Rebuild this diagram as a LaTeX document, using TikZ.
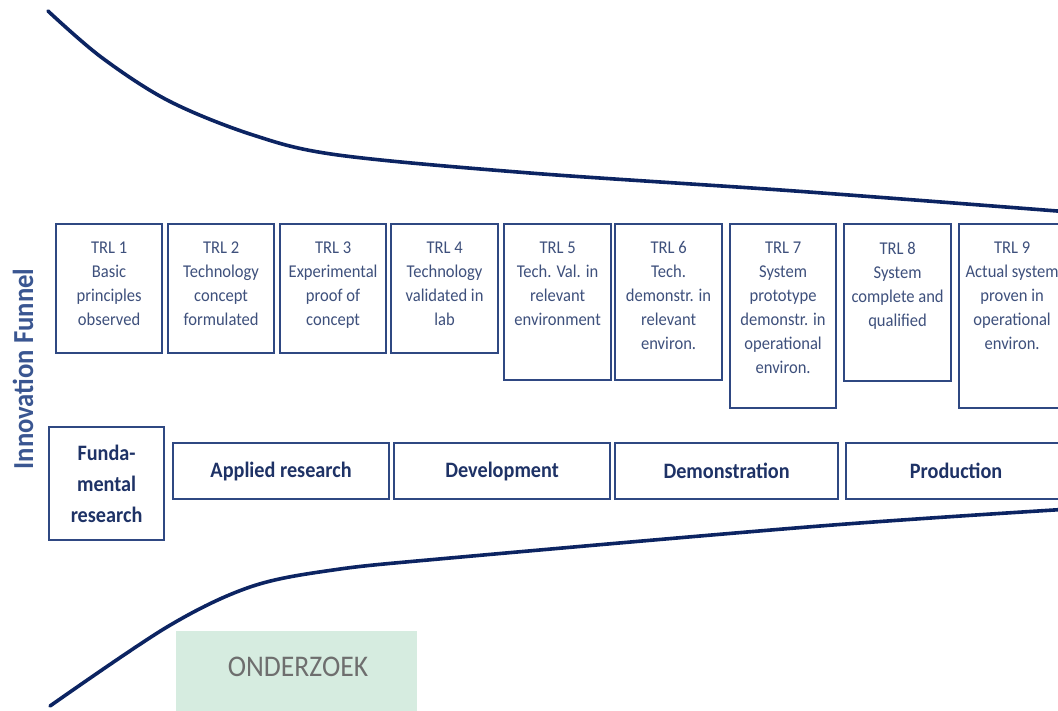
\documentclass[tikz,border=0pt]{standalone}
\usepackage{fontspec}
\setmainfont{Carlito}[FakeStretch=0.92]
\definecolor{boxline}{RGB}{47,72,130}
\definecolor{trltext}{RGB}{62,80,124}
\definecolor{phasetext}{RGB}{30,50,102}
\definecolor{funnelline}{RGB}{12,36,98}
\definecolor{sidetext}{RGB}{58,86,145}
\definecolor{greenfill}{RGB}{214,236,224}
\definecolor{graytext}{RGB}{110,110,110}
\tikzset{
  trlbox/.style={draw=boxline, line width=2.2pt, inner sep=0pt, anchor=north west},
  trllabel/.style={text=trltext, align=center, inner sep=0pt, anchor=north,
    font=\fontsize{18}{24}\selectfont},
  phasebox/.style={draw=boxline, line width=2.2pt, inner sep=0pt, anchor=north west,
    text=phasetext, align=center, font=\bfseries\fontsize{22}{31}\selectfont},
  funnel/.style={draw=funnelline, line width=3.6pt, line cap=round}
}
\begin{document}
\begin{tikzpicture}[x=1pt,y=-1pt]
\useasboundingbox (0,0) rectangle (1058,710);
\fill[white] (0,0) rectangle (1058,710);
% funnel curves
\draw[funnel] plot[smooth, tension=0.55] coordinates {(48,11) (101,57) (169,101) (253,135) (338,155) (530,173) (795,191) (1070,212)};
\draw[funnel] plot[smooth, tension=0.55] coordinates {(50,706) (167,627) (250,587) (333,570) (450,558) (820,526) (1070,509)};
% TRL boxes
\node[trlbox, minimum width=106pt, minimum height=129pt] (t1) at (55,223) {};
\node[trlbox, minimum width=106pt, minimum height=129pt] (t2) at (167,223) {};
\node[trlbox, minimum width=106pt, minimum height=129pt] (t3) at (279,223) {};
\node[trlbox, minimum width=107pt, minimum height=129pt] (t4) at (390,223) {};
\node[trlbox, minimum width=107pt, minimum height=156pt] (t5) at (503,223) {};
\node[trlbox, minimum width=107pt, minimum height=156pt] (t6) at (614,223) {};
\node[trlbox, minimum width=106pt, minimum height=184pt] (t7) at (729,223) {};
\node[trlbox, minimum width=107pt, minimum height=157pt] (t8) at (843,223) {};
\node[trlbox, minimum width=106pt, minimum height=184pt] (t9) at (958,223) {};
\node[trllabel] (l1) at ([yshift=-18.5pt]t1.north) {TRL 1\\Basic\\principles\\observed};
\node[trllabel] (l2) at ([yshift=-18.5pt]t2.north) {TRL 2\\Technology\\concept\\formulated};
\node[trllabel] (l3) at ([yshift=-18.5pt]t3.north) {TRL 3\\Experimental\\proof of\\concept};
\node[trllabel] (l4) at ([yshift=-18.5pt]t4.north) {TRL 4\\Technology\\validated in\\lab};
\node[trllabel] (l5) at ([yshift=-18.5pt]t5.north) {TRL 5\\Tech. Val. in\\relevant\\environment};
\node[trllabel] (l6) at ([yshift=-18.5pt]t6.north) {TRL 6\\Tech.\\demonstr. in\\relevant\\environ.};
\node[trllabel] (l7) at ([yshift=-18.5pt]t7.north) {TRL 7\\System\\prototype\\demonstr. in\\operational\\environ.};
\node[trllabel] (l8) at ([yshift=-18.5pt]t8.north) {TRL 8\\System\\complete and\\qualified};
\node[trllabel] (l9) at ([yshift=-18.5pt]t9.north) {TRL 9\\Actual system\\proven in\\operational\\environ.};
% phase boxes
\node[phasebox, minimum width=115pt, minimum height=113pt] (p1) at (48,426) {Funda-\\mental\\research};
\node[phasebox, minimum width=216pt, minimum height=56pt] (p2) at (172,442) {Applied research};
\node[phasebox, minimum width=216pt, minimum height=56pt] (p3) at (393,442) {Development};
\node[phasebox, minimum width=223pt, minimum height=56pt] (p4) at (614,442) {Demonstration};
\node[phasebox, minimum width=220pt, minimum height=56pt] (p5) at (845,442) {Production};
% side label
\node[rotate=90, text=sidetext, font=\bfseries\fontsize{29}{32}\selectfont, inner sep=0pt] (side) at (23,369) {Innovation Funnel};
% onderzoek
\node[fill=greenfill, minimum width=241pt, minimum height=82pt, inner sep=0pt, anchor=north west] (ond) at (176,631) {};
\node[text=graytext, font=\fontsize{30}{34}\selectfont, inner sep=0pt] (ondt) at (298,667) {ONDERZOEK};
\end{tikzpicture}
\end{document}
